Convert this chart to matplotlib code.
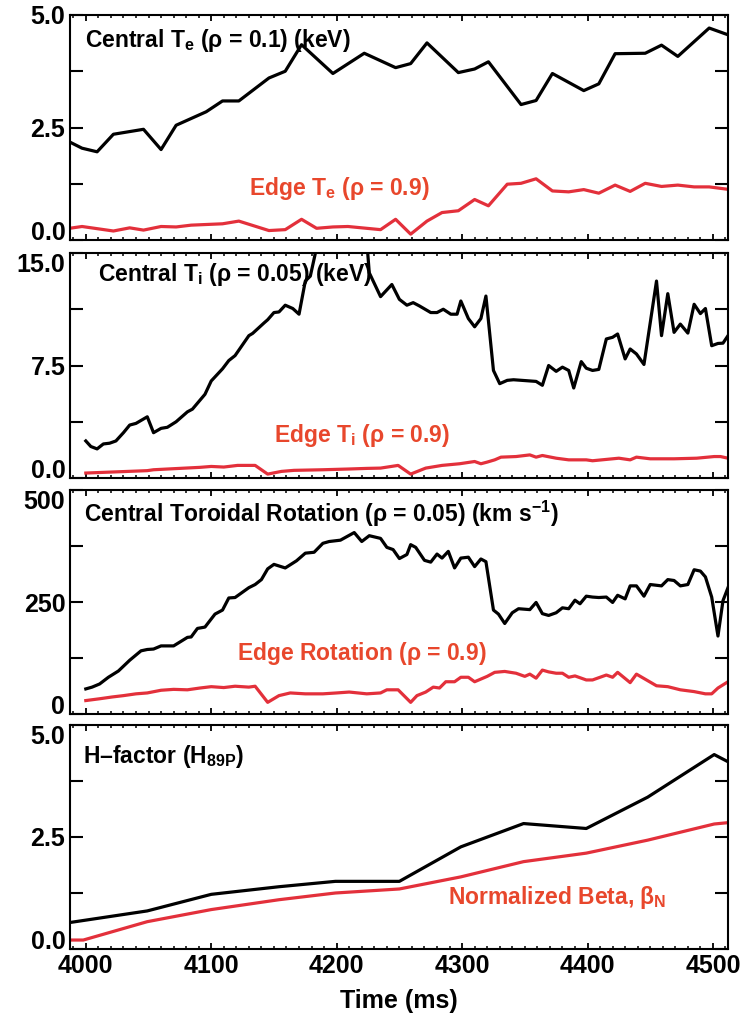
import matplotlib
matplotlib.use('Agg')
import matplotlib.pyplot as plt
from matplotlib.ticker import MultipleLocator

plt.rcParams['font.family'] = ['Liberation Sans', 'DejaVu Sans']
plt.rcParams['font.weight'] = 'bold'
plt.rcParams['mathtext.fontset'] = 'custom'
plt.rcParams['mathtext.rm'] = 'Liberation Sans:bold'
plt.rcParams['mathtext.bf'] = 'Liberation Sans:bold'
plt.rcParams['mathtext.it'] = 'Liberation Sans'

# --- data (time in ms) ---
te_core_t = [3987, 3997, 4009, 4022, 4046, 4060, 4072, 4096, 4109, 4122, 4146, 4159, 4172,
             4197, 4222, 4247, 4259, 4272, 4297, 4310, 4321, 4347, 4359, 4372, 4397, 4409,
             4422, 4446, 4459, 4472, 4497, 4511]
te_core = [2.18, 2.04, 1.96, 2.35, 2.46, 2.01, 2.55, 2.85, 3.09, 3.09, 3.60, 3.75, 4.34,
           3.70, 4.15, 3.83, 3.92, 4.38, 3.72, 3.80, 3.96, 3.01, 3.10, 3.70, 3.32, 3.47,
           4.14, 4.15, 4.33, 4.08, 4.71, 4.57]
te_edge_t = [3987, 3997, 4022, 4035, 4046, 4060, 4072, 4084, 4109, 4122, 4146, 4159, 4172,
             4184, 4197, 4209, 4235, 4247, 4259, 4272, 4284, 4297, 4310, 4321, 4336, 4347,
             4359, 4372, 4385, 4397, 4409, 4422, 4434, 4446, 4459, 4472, 4485, 4497, 4511]
te_edge = [0.26, 0.30, 0.20, 0.27, 0.22, 0.30, 0.29, 0.33, 0.36, 0.42, 0.21, 0.23, 0.46,
           0.26, 0.29, 0.30, 0.23, 0.46, 0.13, 0.42, 0.61, 0.65, 0.90, 0.76, 1.24, 1.26,
           1.36, 1.09, 1.07, 1.12, 1.04, 1.22, 1.08, 1.26, 1.19, 1.22, 1.18, 1.18, 1.13]

ti_core_t = [4000, 4004, 4009, 4014, 4019, 4024, 4030, 4035, 4040, 4049, 4054, 4060, 4065,
             4072, 4081, 4085, 4095, 4100, 4109, 4114, 4119, 4130, 4133, 4142, 4145, 4150,
             4154, 4159, 4165, 4170, 4175, 4179, 4187, 4205, 4224, 4226, 4235, 4244, 4250,
             4256, 4261, 4266, 4275, 4280, 4285, 4291, 4296, 4299, 4305, 4310, 4315, 4319,
             4325, 4330, 4336, 4341, 4359, 4364, 4369, 4375, 4380, 4385, 4389, 4395, 4399,
             4404, 4409, 4415, 4420, 4424, 4430, 4434, 4439, 4445, 4455, 4459, 4464, 4469,
             4474, 4480, 4485, 4490, 4494, 4499, 4504, 4508, 4512]
ti_core = [2.47, 2.10, 1.94, 2.27, 2.32, 2.47, 3.02, 3.53, 3.64, 4.08, 3.02, 3.31, 3.38,
           3.75, 4.41, 4.59, 5.58, 6.47, 7.28, 7.83, 8.16, 9.49, 9.64, 10.33, 10.55, 11.03,
           11.07, 11.52, 11.30, 10.92, 13.13, 13.46, 16.5, 16.8, 15.8, 13.68, 12.09, 12.90, 11.91,
           11.52, 11.69, 11.47, 11.03, 11.03, 11.25, 10.92, 10.92, 11.80, 10.63, 10.08, 10.63, 12.13,
           7.17, 6.29, 6.51, 6.55, 6.44, 6.18, 7.50, 7.11, 7.39, 7.17, 6.00, 7.76, 7.32,
           7.17, 7.24, 9.27, 9.38, 9.60, 7.94, 8.60, 8.27, 7.57, 13.13, 9.49, 12.29, 9.71,
           10.26, 9.66, 11.58, 10.96, 11.30, 8.82, 8.97, 8.99, 9.49]
ti_edge_t = [4000, 4049, 4054, 4070, 4091, 4100, 4110, 4121, 4135, 4145, 4156, 4166, 4189,
             4210, 4224, 4235, 4249, 4259, 4271, 4284, 4298, 4310, 4315, 4320, 4326, 4331,
             4343, 4354, 4359, 4364, 4375, 4385, 4399, 4404, 4420, 4425, 4434, 4439, 4450,
             4469, 4487, 4501, 4506, 4512]
ti_edge = [0.33, 0.49, 0.55, 0.62, 0.71, 0.77, 0.73, 0.84, 0.84, 0.26, 0.44, 0.51, 0.55,
           0.60, 0.64, 0.66, 0.84, 0.26, 0.66, 0.84, 0.95, 1.10, 0.95, 1.06, 1.21, 1.39,
           1.43, 1.54, 1.39, 1.50, 1.32, 1.21, 1.21, 1.15, 1.28, 1.32, 1.21, 1.39, 1.28,
           1.28, 1.32, 1.43, 1.43, 1.32]

rot_core_t = [4000, 4005, 4011, 4018, 4026, 4035, 4044, 4049, 4054, 4060, 4070, 4081, 4084,
              4089, 4095, 4103, 4109, 4114, 4119, 4130, 4135, 4140, 4145, 4150, 4159, 4168,
              4175, 4182, 4189, 4194, 4203, 4214, 4220, 4226, 4235, 4240, 4245, 4250, 4256,
              4259, 4263, 4270, 4275, 4280, 4284, 4289, 4294, 4299, 4305, 4310, 4315, 4319,
              4325, 4329, 4334, 4340, 4345, 4354, 4359, 4364, 4369, 4375, 4380, 4385, 4390,
              4394, 4399, 4404, 4409, 4415, 4420, 4424, 4430, 4434, 4439, 4445, 4450, 4459,
              4464, 4469, 4474, 4480, 4485, 4490, 4494, 4499, 4504, 4508, 4512]
rot_core = [56, 60, 67, 82, 96, 120, 141, 144, 145, 152, 152, 171, 172,
            191, 194, 223, 232, 259, 260, 282, 289, 300, 324, 334, 326, 342,
            359, 361, 381, 385, 388, 405, 385, 398, 392, 372, 367, 347, 356,
            378, 372, 343, 339, 357, 348, 363, 326, 348, 350, 329, 346, 340,
            232, 223, 202, 226, 235, 233, 249, 224, 220, 226, 237, 235, 254,
            246, 263, 261, 260, 261, 249, 265, 257, 286, 286, 263, 289, 286,
            300, 298, 286, 289, 322, 319, 306, 261, 174, 253, 282]
rot_edge_t = [4000, 4011, 4021, 4030, 4040, 4049, 4060, 4070, 4081, 4091, 4100, 4110, 4119,
              4130, 4135, 4145, 4154, 4163, 4175, 4189, 4200, 4210, 4224, 4235, 4240, 4249,
              4259, 4264, 4271, 4277, 4282, 4287, 4294, 4299, 4305, 4310, 4320, 4326, 4334,
              4343, 4350, 4354, 4359, 4364, 4369, 4375, 4380, 4385, 4390, 4399, 4404, 4410,
              4415, 4420, 4424, 4434, 4439, 4455, 4464, 4474, 4485, 4494, 4499, 4504, 4512]
rot_edge = [30, 34, 38, 41, 45, 47, 53, 55, 54, 58, 61, 59, 62,
            60, 62, 26, 41, 47, 45, 45, 47, 49, 45, 47, 54, 54,
            26, 41, 49, 60, 58, 72, 72, 82, 82, 72, 84, 93, 95,
            91, 84, 89, 80, 98, 94, 91, 91, 82, 85, 76, 76, 82,
            87, 82, 93, 70, 89, 63, 61, 54, 50, 45, 45, 58, 72]

h_t = [3987, 4049, 4100, 4154, 4199, 4250, 4299, 4349, 4399, 4448, 4501, 4512]
h_factor = [0.59, 0.85, 1.22, 1.39, 1.51, 1.51, 2.28, 2.80, 2.69, 3.39, 4.34, 4.18]
beta_t = [3987, 3998, 4049, 4100, 4154, 4199, 4250, 4299, 4349, 4399, 4448, 4501, 4512]
beta_n = [0.20, 0.20, 0.61, 0.88, 1.10, 1.25, 1.34, 1.61, 1.95, 2.14, 2.43, 2.79, 2.82]

x_ticks = [4000, 4100, 4200, 4300, 4400, 4500]
y_ticks = [[0, 1.25, 2.5, 3.75, 5.0], [0, 3.75, 7.5, 11.25, 15.0],
           [0, 125, 250, 375, 500], [0, 1.25, 2.5, 3.75, 5.0]]
y_labels = [['0.0', '', '2.5', '', '5.0'], ['0.0', '', '7.5', '', '15.0'],
            ['0', '', '250', '', '500'], ['0.0', '', '2.5', '', '5.0']]

RED = '#e3303b'
RED_TXT = '#e8472c'

W, H = 748, 1023
fig = plt.figure(figsize=(W / 100, H / 100), dpi=100)
tops = [15, 253, 490, 725]
bots = [240, 478, 714, 949]
left, right = 69.5, 728

series = [
    (te_core_t, te_core, te_edge_t, te_edge),
    (ti_core_t, ti_core, ti_edge_t, ti_edge),
    (rot_core_t, rot_core, rot_edge_t, rot_edge),
    (h_t, h_factor, beta_t, beta_n),
]
labels = [
    (r'Central T$_{\mathrm{e}}$ ($\rho$ = 0.1) (keV)', 0.024, 0.86,
     r'Edge T$_{\mathrm{e}}$ ($\rho$ = 0.9)', 0.272, 0.199),
    (r'Central T$_{\mathrm{i}}$ ($\rho$ = 0.05) (keV)', 0.044, 0.875,
     r'Edge T$_{\mathrm{i}}$ ($\rho$ = 0.9)', 0.31, 0.162),
    (r'Central Toroidal Rotation ($\rho$ = 0.05) (km s$^{\mathrm{-1}}$)', 0.022, 0.856,
     r'Edge Rotation ($\rho$ = 0.9)', 0.255, 0.241),
    (r'H–factor (H$_{\mathrm{89P}}$)', 0.02, 0.831,
     r'Normalized Beta, $\beta_{\mathrm{N}}$', 0.575, 0.199),
]

for i in range(4):
    ax = fig.add_axes([left / W, 1 - bots[i] / H, (right - left) / W, (bots[i] - tops[i]) / H])
    ct, cv, et, ev = series[i]
    ax.plot(ct, cv, color='black', lw=2.3)
    ax.plot(et, ev, color=RED, lw=2.3)
    ax.set_xlim(3987, 4512)
    ax.set_ylim(y_ticks[i][0], y_ticks[i][-1])
    ax.set_yticks(y_ticks[i])
    ax.set_yticklabels(y_labels[i], fontsize=18, fontweight='bold')
    ylabs = ax.get_yticklabels()
    ylabs[0].set_verticalalignment('baseline')
    if i > 0:
        ylabs[-1].set_verticalalignment('top')
    ax.set_xticks(x_ticks)
    ax.xaxis.set_minor_locator(MultipleLocator(10))
    ax.tick_params(axis='y', direction='in', length=9.5, width=1.5, left=True, right=True, pad=3)
    ax.tick_params(axis='x', which='major', direction='in', length=4.5, width=1.3, top=True, bottom=True)
    ax.tick_params(axis='x', which='minor', direction='in', length=2.5, width=1.1, top=True, bottom=True)
    for s in ax.spines.values():
        s.set_linewidth(1.5)
    if i < 3:
        ax.set_xticklabels([])
    else:
        ax.set_xticklabels([str(v) for v in x_ticks], fontsize=18, fontweight='bold')
        ax.set_xlabel('Time (ms)', fontsize=18, fontweight='bold', labelpad=8)
    t1, x1, y1, t2, x2, y2 = labels[i]
    ax.text(x1, y1, t1, transform=ax.transAxes, fontsize=16.5, fontweight='bold', color='black', va='baseline')
    ax.text(x2, y2, t2, transform=ax.transAxes, fontsize=16.5, fontweight='bold', color=RED_TXT, va='baseline')

fig.savefig('out.png', dpi=100)
